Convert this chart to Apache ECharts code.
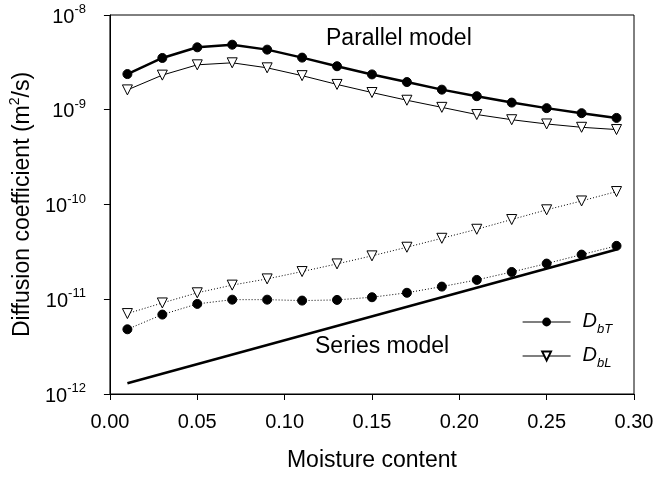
<!DOCTYPE html>
<html>
<head>
<meta charset="utf-8">
<script src="https://cdn.jsdelivr.net/npm/echarts@6/dist/echarts.min.js"></script>
<style>
  html, body { margin: 0; padding: 0; background: #fff; }
  #chart { width: 657px; height: 477px; }
</style>
</head>
<body>
<div id="chart"></div>
<script>
// moisture content (x)
const moisture = [0.01, 0.03, 0.05, 0.07, 0.09, 0.11, 0.13, 0.15, 0.17, 0.19, 0.21, 0.23, 0.25, 0.27, 0.29];

// parallel model
const parallelDbT = [2.38e-9, 3.52e-9, 4.56e-9, 4.86e-9, 4.31e-9, 3.55e-9, 2.88e-9, 2.36e-9, 1.96e-9, 1.63e-9, 1.39e-9, 1.19e-9, 1.04e-9, 9.2e-10, 8.2e-10];
const parallelDbL = [1.62e-9, 2.32e-9, 2.98e-9, 3.13e-9, 2.77e-9, 2.29e-9, 1.85e-9, 1.52e-9, 1.26e-9, 1.06e-9, 8.9e-10, 7.85e-10, 7.08e-10, 6.53e-10, 6.18e-10];

// series model
const seriesDbT = [4.82e-12, 6.89e-12, 8.93e-12, 9.9e-12, 9.9e-12, 9.68e-12, 9.84e-12, 1.05e-11, 1.17e-11, 1.36e-11, 1.6e-11, 1.94e-11, 2.38e-11, 2.96e-11, 3.66e-11];
const seriesDbL = [7.06e-12, 9.14e-12, 1.17e-11, 1.41e-11, 1.64e-11, 1.96e-11, 2.36e-11, 2.87e-11, 3.54e-11, 4.4e-11, 5.48e-11, 6.94e-11, 8.79e-11, 1.09e-10, 1.37e-10];

// straight line (ends)
const lineX = [0.01, 0.29];
const lineY = [1.3e-12, 3.35e-11];

const font = 'Liberation Sans, Arial, sans-serif';

function pairs(xs, ys) {
  return xs.map((x, i) => [x, ys[i]]);
}

const circle = { symbol: 'circle', symbolSize: 9, itemStyle: { color: '#000', borderColor: '#000' } };
const tri = { symbol: 'triangle', symbolRotate: 180, symbolSize: 10, itemStyle: { color: '#fff', borderColor: '#000', borderWidth: 1 } };

const chart = echarts.init(document.getElementById('chart'));
chart.setOption({
  animation: false,
  textStyle: { fontFamily: font },
  grid: {
    left: 106, right: 23, top: 15, bottom: 82,
    show: true, borderColor: '#000', borderWidth: 1
  },
  legend: {
    orient: 'vertical',
    left: 522,
    top: 311,
    padding: 0,
    itemWidth: 48,
    itemHeight: 11,
    itemGap: 9,
    lineStyle: { width: 1.2, type: 'solid' },
    data: ['DbT', 'DbL'],
    formatter: name => '{d|D}{s|' + name.slice(1) + '}',
    textStyle: {
      rich: {
        d: { fontSize: 20, fontStyle: 'italic', color: '#000', lineHeight: 22, padding: [0, 0, 0, 7], verticalAlign: 'top', fontFamily: font },
        s: { fontSize: 13, fontStyle: 'italic', color: '#000', verticalAlign: 'bottom', padding: [0, 0, -3, 0], fontFamily: font }
      }
    }
  },
  xAxis: {
    type: 'value',
    min: 0, max: 0.3, interval: 0.05,
    name: 'Moisture content',
    nameLocation: 'middle',
    nameGap: 55,
    nameTextStyle: { fontSize: 23, color: '#000' },
    axisLine: { lineStyle: { color: '#000' } },
    axisTick: { inside: false, length: 6, lineStyle: { color: '#000' } },
    axisLabel: { fontSize: 20, color: '#000', margin: 18, formatter: v => v.toFixed(2) },
    splitLine: { show: false }
  },
  yAxis: {
    type: 'log',
    min: 1e-12, max: 1e-8,
    logBase: 10,
    name: '{t|Diffusion coefficient (m}{p|2}{t|/s)}',
    nameLocation: 'middle',
    nameGap: 71,
    nameTextStyle: {
      rich: {
        t: { fontSize: 23, color: '#000', lineHeight: 26, verticalAlign: 'bottom', fontFamily: font },
        p: { fontSize: 14, color: '#000', verticalAlign: 'top', fontFamily: font }
      }
    },
    axisLine: { lineStyle: { color: '#000' } },
    axisTick: { inside: false, length: 6, lineStyle: { color: '#000' } },
    axisLabel: {
      margin: 24,
      formatter: v => '{b|10}{e|' + Math.round(Math.log10(v)) + '}',
      rich: {
        b: { fontSize: 20, color: '#000', lineHeight: 24, verticalAlign: 'bottom', fontFamily: font },
        e: { fontSize: 13, color: '#000', verticalAlign: 'top', fontFamily: font }
      }
    },
    splitLine: { show: false },
    minorTick: { show: false }
  },
  graphic: [
    { type: 'text', left: 326, top: 27, style: { text: 'Parallel model', fontSize: 23, fill: '#000', fontFamily: font } },
    { type: 'text', left: 315, top: 335, style: { text: 'Series model', fontSize: 23, fill: '#000', fontFamily: font } }
  ],
  series: [
    {
      name: 'DbT', type: 'line', data: pairs(moisture, parallelDbT), z: 4,
      lineStyle: { color: '#000', width: 2.5 }, ...circle
    },
    {
      name: 'DbL', type: 'line', data: pairs(moisture, parallelDbL), z: 3,
      lineStyle: { color: '#000', width: 1 }, ...tri
    },
    {
      name: 'DbT series', type: 'line', data: pairs(moisture, seriesDbT), z: 4,
      lineStyle: { color: '#000', width: 1, type: [1, 2] }, ...circle
    },
    {
      name: 'DbL series', type: 'line', data: pairs(moisture, seriesDbL), z: 3,
      lineStyle: { color: '#000', width: 1, type: [1, 2] }, ...tri
    },
    {
      name: 'Series line', type: 'line', data: pairs(lineX, lineY), z: 2,
      showSymbol: false, symbol: 'none',
      lineStyle: { color: '#000', width: 2.5 }
    }
  ]
});
</script>
</body>
</html>
